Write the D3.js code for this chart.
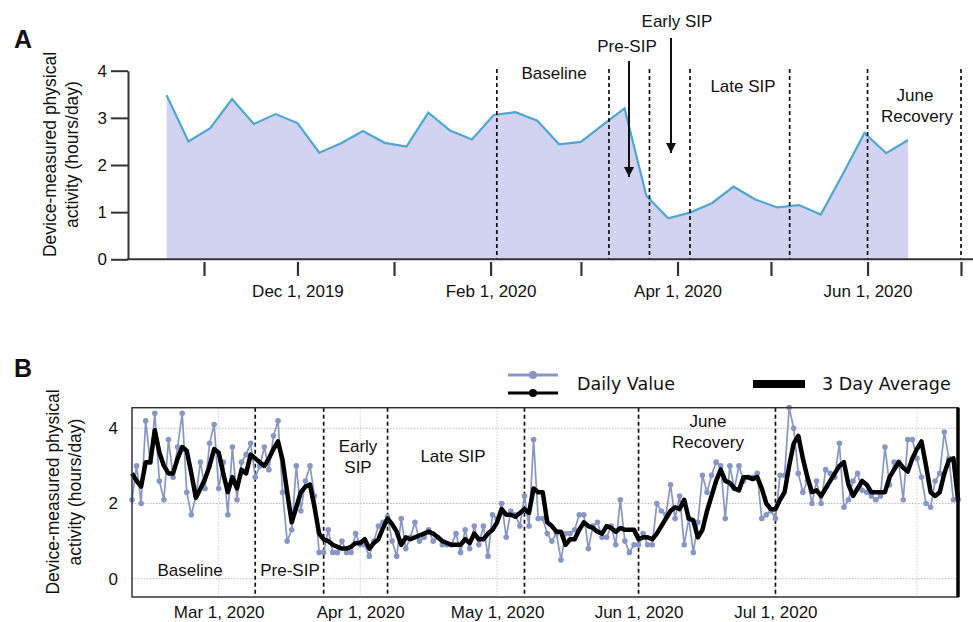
<!DOCTYPE html>
<html><head><meta charset="utf-8">
<script src="https://cdn.jsdelivr.net/npm/d3@7"></script>
<style>
body{margin:0;background:#fff}
svg{display:block}
text{fill:#111}
</style>
</head><body>
<svg id="c" width="973" height="622" font-family="Liberation Sans, Arial, sans-serif"></svg>
<script>
// ---------------- DATA ----------------
// Panel A: weekly averages
const weeklyDates = ["2019-10-20","2019-10-27","2019-11-03","2019-11-10","2019-11-17","2019-11-24",
  "2019-12-01","2019-12-08","2019-12-15","2019-12-22","2019-12-29","2020-01-05","2020-01-12",
  "2020-01-19","2020-01-26","2020-02-02","2020-02-09","2020-02-16","2020-02-23","2020-03-01",
  "2020-03-08","2020-03-15","2020-03-22","2020-03-29","2020-04-05","2020-04-12","2020-04-19",
  "2020-04-26","2020-05-03","2020-05-10","2020-05-17","2020-05-24","2020-05-31","2020-06-07","2020-06-14"];
const weeklyHours = [3.48,2.5,2.78,3.4,2.87,3.08,2.89,2.26,2.46,2.72,2.47,2.39,3.11,2.73,2.54,3.06,3.12,
  2.94,2.44,2.49,2.85,3.2,1.35,0.87,0.99,1.19,1.54,1.27,1.1,1.15,0.95,1.8,2.68,2.25,2.53];
const phaseLinesA = ["2020-02-03","2020-03-10","2020-03-23","2020-04-05","2020-05-07","2020-06-01","2020-07-01"];
const monthTicksA = ["2019-11-01","2019-12-01","2020-01-01","2020-02-01","2020-03-01","2020-04-01","2020-05-01","2020-06-01","2020-07-01"];
const labelTicksA = ["2019-12-01","2020-02-01","2020-04-01","2020-06-01"];
const yTicksA = [0,1,2,3,4];

// Panel B: daily values from 2020-02-11
const dailyStart = "2020-02-11";
const dailyValues = [2.1,3.0,2.0,4.2,3.1,4.4,2.6,2.1,3.7,2.7,3.5,4.4,2.3,1.7,2.2,3.1,2.4,3.6,4.1,2.4,
  3.1,1.7,3.5,2.1,3.1,3.3,3.6,2.7,3.0,3.5,2.9,3.8,4.2,2.3,1.0,1.3,3.0,1.8,2.6,3.0,
  2.2,0.7,0.7,1.3,0.7,0.7,1.0,0.7,0.7,1.2,0.9,0.9,0.6,1.0,1.4,1.5,1.65,1.0,0.6,1.6,
  0.8,1.1,1.5,1.0,1.1,1.3,1.0,1.1,0.9,0.9,0.9,1.2,0.7,1.3,0.8,1.4,0.9,1.4,0.6,1.7,
  1.6,2.0,1.1,1.8,1.7,1.4,2.2,1.4,3.7,1.6,1.6,1.2,1.0,1.2,0.5,1.2,1.2,1.3,1.7,1.7,
  0.8,1.4,1.5,1.1,1.1,1.4,0.9,2.1,1.0,0.7,0.9,0.9,1.2,0.9,0.9,2.0,1.8,1.7,2.5,1.6,
  2.2,0.9,1.6,0.7,1.5,2.75,2.3,2.75,3.1,3.0,1.6,3.0,2.4,3.0,2.6,2.7,2.7,2.8,1.6,1.7,
  1.8,1.6,2.75,2.75,4.55,4.0,2.8,2.3,2.6,2.0,2.6,2.0,2.9,2.8,2.7,3.6,1.9,2.1,2.6,2.8,
  2.35,2.3,2.2,2.1,2.2,3.5,2.5,3.1,3.1,2.1,3.7,3.7,3.2,2.7,2.0,1.9,2.6,2.8,3.9,3.2,2.1,2.1];
const avgValues = [2.8,2.6,2.45,3.1,3.1,3.95,3.35,3.0,2.8,2.8,3.2,3.5,3.4,2.8,2.15,2.4,2.65,3.0,3.45,3.35,
  2.8,2.3,2.7,2.4,2.9,2.8,3.3,3.2,3.1,3.0,3.2,3.45,3.65,3.15,2.3,1.5,1.9,2.3,2.45,2.5,
  1.9,1.2,1.05,1.0,0.9,0.85,0.8,0.8,0.85,0.95,0.95,1.05,0.8,0.95,1.05,1.35,1.6,1.45,1.25,0.9,
  1.1,1.05,1.1,1.15,1.2,1.25,1.2,1.1,1.0,0.95,0.9,0.9,0.9,1.05,0.95,1.2,1.05,1.05,1.2,1.3,
  1.5,1.85,1.7,1.7,1.65,1.75,1.85,1.75,2.4,2.3,2.3,1.5,1.4,1.25,1.25,0.9,1.05,1.05,1.3,1.5,
  1.4,1.35,1.25,1.2,1.4,1.35,1.25,1.35,1.3,1.3,1.3,1.05,1.1,1.1,1.05,1.2,1.4,1.6,1.8,1.9,
  1.85,2.1,1.6,1.55,1.1,1.3,1.8,2.2,2.6,2.9,2.6,2.55,2.4,2.35,2.7,2.7,2.65,2.7,2.4,2.0,
  1.85,1.85,2.1,2.3,3.0,3.6,3.8,3.2,2.7,2.3,2.35,2.2,2.4,2.6,2.8,3.0,3.1,2.5,2.2,2.4,
  2.6,2.5,2.3,2.3,2.3,2.3,2.7,2.9,3.1,2.95,2.85,3.2,3.45,3.65,3.0,2.3,2.2,2.3,2.8,3.15,3.2,2.1];
const phaseLinesB = ["2020-03-09","2020-03-24","2020-04-07","2020-05-07","2020-06-01","2020-07-01"];
const gridDatesB = ["2020-03-01","2020-04-01","2020-05-01","2020-06-01","2020-07-01","2020-08-01"];
const labelDatesB = ["2020-03-01","2020-04-01","2020-05-01","2020-06-01","2020-07-01"];
const yTicksB = [0,2,4];

// ---------------- DRAW ----------------
const parse = d3.timeParse("%Y-%m-%d");
const fmt = d3.timeFormat("%b %-d, %Y");
const intFmt = d3.format("d");
const SANS = "Liberation Sans, Arial, sans-serif";
const DEJA = "DejaVu Sans, sans-serif";
const svg = d3.select("#c");

// ===== Panel A =====
const xA = d3.scaleTime().domain([parse("2019-11-01"), parse("2020-07-01")]).range([204, 961]);
const yA = d3.scaleLinear().domain([0, 4]).range([259.3, 70.7]);
const dataA = weeklyDates.map((d, i) => ({date: parse(d), v: weeklyHours[i]}));

svg.append("text").attr("x", 14).attr("y", 48).attr("font-size", 25).attr("font-weight", "bold").text("A");

svg.append("path").datum(dataA)
  .attr("d", d3.area().x(d => xA(d.date)).y0(yA(0)).y1(d => yA(d.v)))
  .attr("fill", "#d2d2f1");
svg.append("path").datum(dataA)
  .attr("d", d3.line().x(d => xA(d.date)).y(d => yA(d.v)))
  .attr("fill", "none").attr("stroke", "#4fa6d3").attr("stroke-width", 2.2);

// phase lines A
svg.append("g").selectAll("line").data(phaseLinesA).join("line")
  .attr("x1", d => xA(parse(d))).attr("x2", d => xA(parse(d)))
  .attr("y1", 69).attr("y2", yA(0))
  .attr("stroke", "#111").attr("stroke-width", 1.7).attr("stroke-dasharray", "4,3");

// y axis A
const gyA = svg.append("g").attr("transform", "translate(128,0)")
  .call(d3.axisLeft(yA).tickValues(yTicksA).tickFormat(intFmt).tickSize(17).tickSizeOuter(0).tickPadding(4));
gyA.selectAll("path,line").attr("stroke", "#333").attr("stroke-width", 2);
gyA.selectAll("text").attr("font-size", 17).attr("font-family", SANS).attr("fill", "#111");

// x axis line A
svg.append("line").attr("x1", 127).attr("x2", 973).attr("y1", yA(0)).attr("y2", yA(0))
  .attr("stroke", "#333").attr("stroke-width", 2);
const labSet = new Set(labelTicksA);
const gxA = svg.append("g").attr("transform", "translate(0,262)")
  .call(d3.axisBottom(xA).tickValues(monthTicksA.map(parse)).tickSize(14).tickSizeOuter(0).tickPadding(9)
    .tickFormat(d => labSet.has(d3.timeFormat("%Y-%m-%d")(d)) ? fmt(d) : ""));
gxA.select(".domain").remove();
gxA.selectAll("line").attr("stroke", "#333").attr("stroke-width", 2.2);
gxA.selectAll("text").attr("font-size", 17).attr("font-family", SANS).attr("fill", "#111");

// y title A
const tA = svg.append("text").attr("transform", "translate(56,154.5) rotate(-90)")
  .attr("text-anchor", "middle").attr("font-size", 17.5);
tA.append("tspan").attr("x", 0).attr("y", 0).text("Device-measured physical");
tA.append("tspan").attr("x", 0).attr("y", 22).text("activity (hours/day)");

// phase labels A
const labelsA = [
  {t: "Baseline", x: 554, y: 79},
  {t: "Pre-SIP", x: 627, y: 52},
  {t: "Early SIP", x: 677, y: 27},
  {t: "Late SIP", x: 743, y: 92},
  {t: "June", x: 915, y: 101},
  {t: "Recovery", x: 917, y: 122}
];
svg.append("g").selectAll("text").data(labelsA).join("text")
  .attr("x", d => d.x).attr("y", d => d.y).attr("text-anchor", "middle").attr("font-size", 17).text(d => d.t);

// arrows A
svg.append("defs").append("marker").attr("id", "ah").attr("viewBox", "0 0 10 10")
  .attr("refX", 10).attr("refY", 5).attr("markerWidth", 10).attr("markerHeight", 12)
  .attr("markerUnits", "userSpaceOnUse").attr("orient", "auto")
  .append("path").attr("d", "M0,0 L10,5 L0,10 Z").attr("fill", "#111");
const arrows = [{x: 629, y1: 61, y2: 177}, {x: 671, y1: 38, y2: 153}];
svg.append("g").selectAll("line").data(arrows).join("line")
  .attr("x1", d => d.x).attr("x2", d => d.x).attr("y1", d => d.y1).attr("y2", d => d.y2)
  .attr("stroke", "#111").attr("stroke-width", 2).attr("marker-end", "url(#ah)");

// ===== Panel B =====
const startB = parse(dailyStart);
const dataB = dailyValues.map((v, i) => ({date: d3.timeDay.offset(startB, i), v, a: avgValues[i]}));
const xB = d3.scaleTime().domain([dataB[0].date, dataB[dataB.length - 1].date]).range([132, 958]);
const yB = d3.scaleLinear().domain([0, 4]).range([578.7, 428.3]);
const topB = 407.7, botB = 597;

svg.append("text").attr("x", 14).attr("y", 377).attr("font-size", 25).attr("font-weight", "bold").text("B");

// grid
const gg = svg.append("g");
gg.selectAll("line.h").data(yTicksB).join("line").attr("class", "h")
  .attr("x1", 132).attr("x2", 958).attr("y1", d => yB(d)).attr("y2", d => yB(d))
  .attr("stroke", "#bdbdbd").attr("stroke-width", 1).attr("stroke-dasharray", "1.5,1.5");
gg.selectAll("line.v").data(gridDatesB).join("line").attr("class", "v")
  .attr("x1", d => xB(parse(d))).attr("x2", d => xB(parse(d))).attr("y1", topB).attr("y2", botB)
  .attr("stroke", "#cfcfcf").attr("stroke-width", 1).attr("stroke-dasharray", "1.5,1.5");

// phase lines B
svg.append("g").selectAll("line").data(phaseLinesB).join("line")
  .attr("x1", d => xB(parse(d))).attr("x2", d => xB(parse(d)))
  .attr("y1", topB).attr("y2", botB)
  .attr("stroke", "#111").attr("stroke-width", 1.7).attr("stroke-dasharray", "4,3");

// labels B
const labelsB = [
  {t: "Baseline", x: 190, y: 576},
  {t: "Pre-SIP", x: 290, y: 576},
  {t: "Early", x: 358, y: 452},
  {t: "SIP", x: 358, y: 473},
  {t: "Late SIP", x: 453, y: 462},
  {t: "June", x: 708, y: 427},
  {t: "Recovery", x: 708, y: 448}
];
svg.append("g").selectAll("text").data(labelsB).join("text")
  .attr("x", d => d.x).attr("y", d => d.y).attr("text-anchor", "middle").attr("font-size", 17).text(d => d.t);

// daily series
const dailyColor = "#8796c4";
svg.append("path").datum(dataB)
  .attr("d", d3.line().x(d => xB(d.date)).y(d => yB(d.v)))
  .attr("fill", "none").attr("stroke", dailyColor).attr("stroke-width", 1.7);
svg.append("g").selectAll("circle").data(dataB).join("circle")
  .attr("cx", d => xB(d.date)).attr("cy", d => yB(d.v)).attr("r", 2.8).attr("fill", dailyColor);
// 3 day average
svg.append("path").datum(dataB)
  .attr("d", d3.line().x(d => xB(d.date)).y(d => yB(d.a)))
  .attr("fill", "none").attr("stroke", "#000").attr("stroke-width", 4.5).attr("stroke-linejoin", "round");

// frame
svg.append("rect").attr("x", 132).attr("y", topB).attr("width", 958 - 132).attr("height", botB - topB)
  .attr("fill", "none").attr("stroke", "#333").attr("stroke-width", 1.5);
svg.append("line").attr("x1", 958).attr("x2", 958).attr("y1", topB).attr("y2", botB)
  .attr("stroke", "#000").attr("stroke-width", 3.5);

// axes B
const gyB = svg.append("g").attr("transform", "translate(132,0)")
  .call(d3.axisLeft(yB).tickValues(yTicksB).tickFormat(intFmt).tickSize(0).tickPadding(14));
gyB.select(".domain").remove();
gyB.selectAll("text").attr("font-size", 17).attr("font-family", SANS).attr("fill", "#111");
const gxB = svg.append("g").attr("transform", `translate(0,${botB})`)
  .call(d3.axisBottom(xB).tickValues(labelDatesB.map(parse)).tickSize(0).tickPadding(9).tickFormat(fmt));
gxB.select(".domain").remove();
gxB.selectAll("text").attr("font-size", 17).attr("font-family", SANS).attr("fill", "#111");

// y title B
const tB = svg.append("text").attr("transform", "translate(59,492) rotate(-90)")
  .attr("text-anchor", "middle").attr("font-size", 17.5);
tB.append("tspan").attr("x", 0).attr("y", 0).text("Device-measured physical");
tB.append("tspan").attr("x", 0).attr("y", 22).text("activity (hours/day)");

// legend B
const lg = svg.append("g");
lg.append("line").attr("x1", 508).attr("x2", 558).attr("y1", 375).attr("y2", 375)
  .attr("stroke", dailyColor).attr("stroke-width", 3);
lg.append("circle").attr("cx", 533).attr("cy", 375).attr("r", 4).attr("fill", dailyColor);
lg.append("line").attr("x1", 508).attr("x2", 558).attr("y1", 393).attr("y2", 393)
  .attr("stroke", "#000").attr("stroke-width", 3);
lg.append("circle").attr("cx", 533).attr("cy", 393).attr("r", 4).attr("fill", "#000");
lg.append("text").attr("x", 577).attr("y", 390).attr("font-size", 17.5)
  .style("font-family", DEJA).text("Daily Value");
lg.append("line").attr("x1", 753).attr("x2", 805).attr("y1", 384).attr("y2", 384)
  .attr("stroke", "#000").attr("stroke-width", 8);
lg.append("text").attr("x", 822).attr("y", 390).attr("font-size", 17.5)
  .style("font-family", DEJA).text("3 Day Average");
</script>
</body></html>
